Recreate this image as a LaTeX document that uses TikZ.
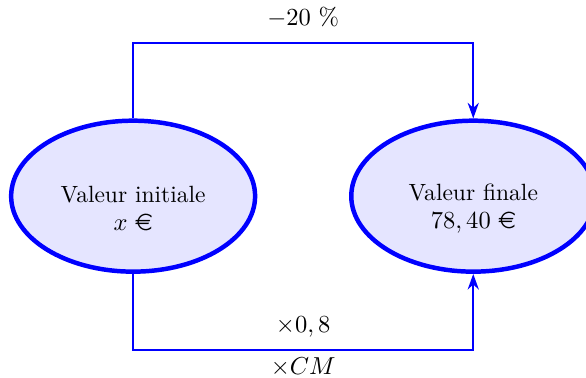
\documentclass[tikz,border=0pt]{standalone}
\usepackage{amsmath,amssymb}
\usepackage{eurosym}
\usetikzlibrary{arrows.meta,positioning,shapes.geometric,calc}

\tikzset{
  etat/.style={ellipse, draw=blue, fill=blue!10, line width=2pt, minimum width=3.83cm, minimum height=2.37cm},
  texte/.style={align=center},
  fleche/.style={draw=blue, thick, -{Stealth[length=7pt,width=5pt]}}
}

\begin{document}
\begin{tikzpicture}[>=Stealth, font=\fontsize{10.5pt}{12.6pt}\selectfont]
\useasboundingbox (0,0) rectangle (9.20,5.93);
\node[etat] (init) at (2.09,2.85) {};
\node[etat] (fin) at (7.43,2.85) {};
\node[texte] (initTxt) at ([yshift=-0.19cm]init.center) {Valeur initiale\\ $x$ \euro};
\node[texte] (finTxt) at ([yshift=-0.19cm]fin.center) {Valeur finale\\ $78,40$ \euro};
% coefficient en haut
\draw[fleche] (init.north) |- ([yshift=1.19cm]fin.north) node[pos=0.75, above=3pt] {$-20~\%$} -- (fin.north);
% coefficient en bas
\draw[fleche] (init.south) |- ([yshift=-1.19cm]fin.south) node[pos=0.75, above=2pt] {$\times 0,8$} node[pos=0.75, below=0pt] {$\times CM$} -- (fin.south);
\end{tikzpicture}
\end{document}
